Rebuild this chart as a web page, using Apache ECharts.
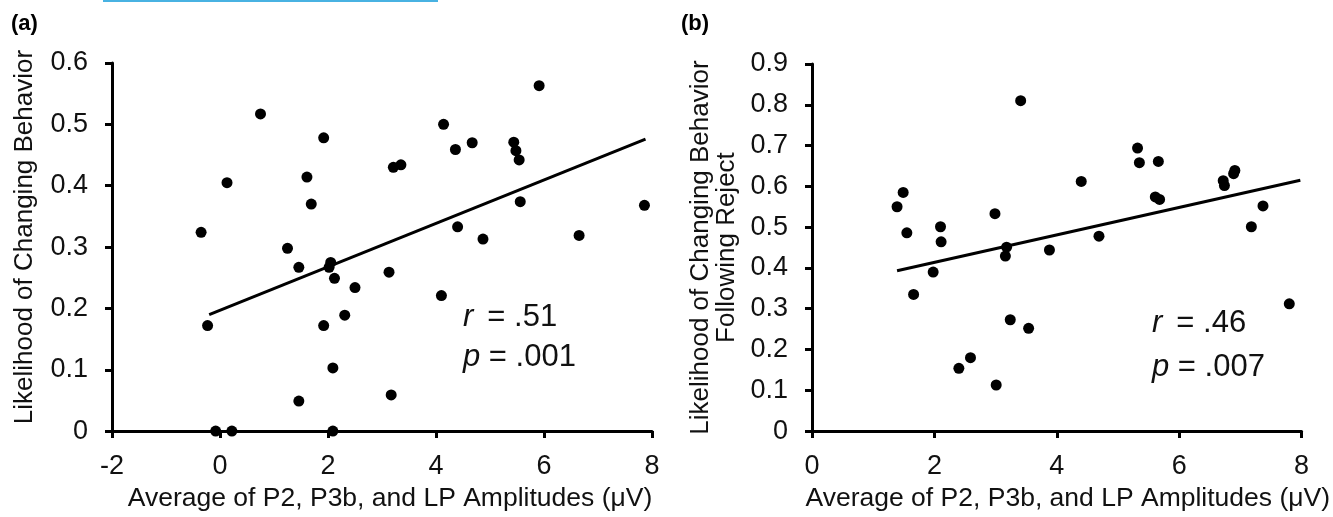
<!DOCTYPE html>
<html>
<head>
<meta charset="utf-8">
<script src="https://cdn.jsdelivr.net/npm/echarts@6/dist/echarts.min.js"></script>
<style>
html,body{margin:0;padding:0;background:#fff;}
#chart{width:1333px;height:517px;}
</style>
</head>
<body>
<div id="chart"></div>
<script>
// Panel (a) data
var pointsA = [
  [-0.35,0.324],[-0.23,0.172],[0.13,0.405],[0.75,0.517],[-0.08,0.0],[0.22,0.0],
  [1.92,0.478],[1.61,0.414],[1.69,0.370],[1.25,0.298],[1.46,0.267],[2.05,0.275],
  [2.02,0.267],[2.12,0.249],[2.50,0.234],[1.92,0.172],[2.31,0.189],[2.09,0.103],
  [1.46,0.049],[2.09,0.0],[5.91,0.563],[4.14,0.500],[4.36,0.459],[4.67,0.470],
  [3.21,0.430],[3.35,0.434],[5.44,0.471],[5.48,0.457],[5.54,0.442],[5.56,0.374],
  [7.86,0.368],[4.40,0.333],[4.87,0.313],[6.65,0.319],[3.13,0.259],[4.10,0.221],
  [3.17,0.059]
];
var trendA = [[-0.2,0.19],[7.88,0.476]];
// Panel (b) data
var pointsB = [
  [1.39,0.550],[1.49,0.585],[1.55,0.486],[1.66,0.335],[2.10,0.501],[2.11,0.464],
  [1.98,0.390],[2.40,0.154],[2.59,0.180],[2.99,0.533],[3.01,0.113],[3.18,0.451],
  [3.16,0.429],[3.24,0.273],[3.41,0.810],[3.54,0.252],[3.88,0.444],[4.40,0.612],
  [4.69,0.478],[5.32,0.694],[5.35,0.658],[5.66,0.661],[5.61,0.574],[5.68,0.568],
  [6.72,0.614],[6.74,0.602],[6.89,0.631],[6.91,0.639],[7.37,0.552],[7.18,0.501],
  [7.80,0.312]
];
var trendB = [[1.39,0.393],[7.98,0.615]];

var xTitle = 'Average of P2, P3b, and LP Amplitudes (μV)';
var yTitleA = 'Likelihood of Changing Behavior';
var yTitleB = 'Likelihood of Changing Behavior\nFollowing Reject';
var statsA = ['.51', '.001'];
var statsB = ['.46', '.007'];

var FONT = '"Liberation Sans", Arial, sans-serif';
var TXT = '#111';

function xAxisCfg(gridIndex, min, max, pad) {
  return {
    gridIndex: gridIndex, type: 'value', min: min, max: max, interval: 2,
    name: xTitle, nameLocation: 'middle', nameGap: 51,
    nameTextStyle: {fontFamily: FONT, fontSize: 26.5, color: TXT, padding: [0, 0, 0, pad]},
    axisLine: {show: true, onZero: false, lineStyle: {color: '#000', width: 3}},
    axisTick: {show: true, length: 7, lineStyle: {color: '#000', width: 3}},
    axisLabel: {fontFamily: FONT, fontSize: 27, color: TXT, margin: 22},
    splitLine: {show: false}
  };
}
function yAxisCfg(gridIndex, max, name, gap, pad) {
  return {
    gridIndex: gridIndex, type: 'value', min: 0, max: max, interval: 0.1,
    name: name, nameLocation: 'middle', nameGap: gap,
    nameTextStyle: {fontFamily: FONT, fontSize: 26, color: TXT, lineHeight: 26,
      padding: [0, 0, 0, pad]},
    axisLine: {show: true, onZero: false, lineStyle: {color: '#000', width: 3}},
    axisTick: {show: true, length: 7, lineStyle: {color: '#000', width: 3}},
    axisLabel: {fontFamily: FONT, fontSize: 27, color: TXT, margin: 24,
      formatter: function (v) { return v === 0 ? '0' : v.toFixed(1); }},
    splitLine: {show: false}
  };
}

function statText(left, top, vals, lh) {
  return {
    type: 'text', left: left, top: top,
    style: {
      text: '{i|r}{g| }= ' + vals[0] + '\n{i|p} = ' + vals[1],
      font: '31px ' + FONT, fill: TXT, lineHeight: lh,
      rich: {
        i: {fontStyle: 'italic', fontFamily: FONT, fontSize: 31, fill: TXT, lineHeight: lh},
        g: {fontFamily: FONT, fontSize: 31, width: 14, lineHeight: lh}
      }
    }
  };
}

var chart = echarts.init(document.getElementById('chart'), null, {renderer: 'canvas'});
chart.setOption({
  animation: false,
  backgroundColor: '#fff',
  grid: [
    {left: 112, top: 63, width: 540, height: 376},
    {left: 812, top: 64, width: 509, height: 375}
  ],
  xAxis: [xAxisCfg(0, -2, 8, 16), xAxisCfg(1, 0, 8, 22)],
  yAxis: [yAxisCfg(0, 0.6, yTitleA, 74, 20), yAxisCfg(1, 0.9, yTitleB, 72, 0)],
  series: [
    {type: 'scatter', xAxisIndex: 0, yAxisIndex: 0, data: pointsA, symbolSize: 11,
      itemStyle: {color: '#000', opacity: 1}, z: 3},
    {type: 'line', xAxisIndex: 0, yAxisIndex: 0, data: trendA, symbol: 'none',
      lineStyle: {color: '#000', width: 3}, z: 2},
    {type: 'scatter', xAxisIndex: 1, yAxisIndex: 1, data: pointsB, symbolSize: 11,
      itemStyle: {color: '#000', opacity: 1}, z: 3},
    {type: 'line', xAxisIndex: 1, yAxisIndex: 1, data: trendB, symbol: 'none',
      lineStyle: {color: '#000', width: 3}, z: 2}
  ],
  graphic: [
    {type: 'rect', left: 103, top: 0, shape: {width: 335, height: 2}, style: {fill: '#48b2e2'}},
    {type: 'text', left: 11, top: 13, style: {text: '(a)', font: 'bold 22px ' + FONT, fill: '#000'}},
    {type: 'text', left: 681, top: 13, style: {text: '(b)', font: 'bold 22px ' + FONT, fill: '#000'}},
    statText(463, 297, statsA, 40),
    statText(1152, 301, statsB, 44)
  ]
});
</script>
</body>
</html>
